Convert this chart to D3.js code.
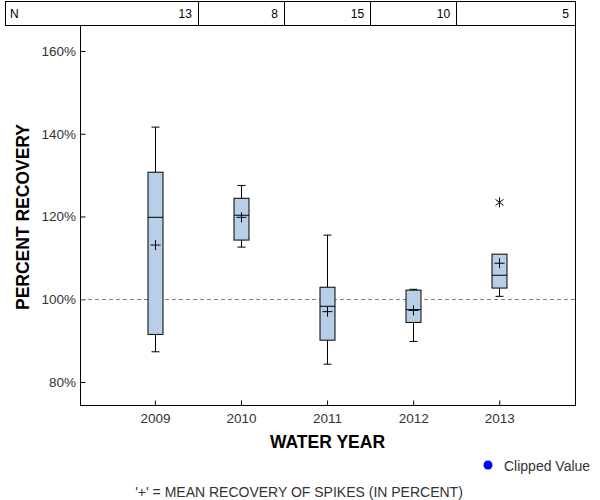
<!DOCTYPE html>
<html>
<head>
<meta charset="utf-8">
<script src="https://cdn.jsdelivr.net/npm/d3@7"></script>
<style>
  body { margin: 0; background: #fff; }
  svg { display: block; font-family: "Liberation Sans", Arial, sans-serif; }
</style>
</head>
<body>
<svg id="chart" width="600" height="500"></svg>
<script>
// ---- data ----
const years      = [2009, 2010, 2011, 2012, 2013];
const counts     = [13, 8, 15, 10, 5];
const whiskerLow = [87.3, 112.6, 84.3, 89.8, 100.7];
const q1         = [91.5, 114.3, 90.1, 94.4, 102.7];
const medians    = [119.8, 120.3, 98.3, 97.5, 105.8];
const q3         = [130.7, 124.4, 102.9, 102.2, 110.9];
const whiskerHigh= [141.6, 127.5, 115.5, 102.4, 110.9];
const means      = [113.1, 119.8, 97.0, 97.3, 108.7];
const outlierYears  = [2013];
const outlierValues = [123.4];
const yTicks     = [80, 100, 120, 140, 160];
const refValue   = 100;

// ---- layout ----
const svg = d3.select("#chart");
const pLeft = 80, pRight = 575, pTop = 25, pBottom = 405;

const x = d3.scaleLinear().domain([2008.13, 2013.88]).range([pLeft, pRight]);
const y = d3.scaleLinear().domain([74.44, 166.28]).range([pBottom, pTop]);

const boxW = 15, capW = 8;

// N table
const tableTop = 1;
svg.append("rect").attr("x", 5.5).attr("y", tableTop + 0.5).attr("width", pRight - 5).attr("height", pTop - tableTop)
  .attr("fill", "none").attr("stroke", "#000").attr("stroke-width", 1).attr("shape-rendering", "crispEdges");
const dividers = years.slice(0, -1).map((yr, i) => (x(yr) + x(years[i + 1])) / 2);
dividers.forEach(d => {
  svg.append("line").attr("x1", Math.round(d) + 0.5).attr("x2", Math.round(d) + 0.5)
    .attr("y1", tableTop).attr("y2", pTop).attr("stroke", "#000").attr("shape-rendering", "crispEdges");
});
svg.append("text").attr("x", 10).attr("y", 18).attr("font-size", 12).attr("fill", "#000").text("N");
const colRights = dividers.concat([pRight]);
counts.forEach((c, i) => {
  svg.append("text").attr("x", colRights[i] - 6).attr("y", 18).attr("font-size", 12)
    .attr("text-anchor", "end").attr("fill", "#000").text(c);
});

// plot frame (left, bottom, right)
svg.append("path")
  .attr("d", `M${pLeft + 0.5},${pTop} V${pBottom + 0.5} H${pRight + 0.5} V${pTop}`)
  .attr("fill", "none").attr("stroke", "#000").attr("shape-rendering", "crispEdges");

// y axis (inside ticks)
const yAxis = d3.axisLeft(y).tickValues(yTicks).tickSize(-5).tickPadding(4.5)
  .tickFormat(d => d + "%");
const gy = svg.append("g").attr("transform", `translate(${pLeft + 0.5},0)`).call(yAxis);
gy.select(".domain").remove();
gy.selectAll("line").attr("stroke", "#000");
gy.selectAll("text").attr("font-size", 13.5).attr("fill", "#333")
  .attr("font-family", "'Liberation Sans', Arial, sans-serif");

// x axis (inside ticks)
const xAxis = d3.axisBottom(x).tickValues(years).tickSize(-5).tickPadding(8).tickFormat(d3.format("d"));
const gx = svg.append("g").attr("transform", `translate(0,${pBottom + 0.5})`).call(xAxis);
gx.select(".domain").remove();
gx.selectAll("line").attr("stroke", "#000");
gx.selectAll("text").attr("font-size", 13.5).attr("fill", "#333")
  .attr("font-family", "'Liberation Sans', Arial, sans-serif");

// reference line
svg.append("line").attr("x1", pLeft + 1).attr("x2", pRight)
  .attr("y1", Math.round(y(refValue)) + 0.5).attr("y2", Math.round(y(refValue)) + 0.5)
  .attr("stroke", "#808080").attr("stroke-dasharray", "4,3");

// boxes
years.forEach((yr, i) => {
  const cx = Math.round(x(yr)) + 0.5;
  const g = svg.append("g").attr("stroke", "#000").attr("stroke-width", 1);
  g.append("line").attr("x1", cx).attr("x2", cx).attr("y1", y(q3[i])).attr("y2", y(whiskerHigh[i]));
  g.append("line").attr("x1", cx).attr("x2", cx).attr("y1", y(q1[i])).attr("y2", y(whiskerLow[i]));
  if (whiskerHigh[i] > q3[i]) {
    g.append("line").attr("x1", cx - capW / 2).attr("x2", cx + capW / 2)
      .attr("y1", y(whiskerHigh[i])).attr("y2", y(whiskerHigh[i]));
  }
  g.append("line").attr("x1", cx - capW / 2).attr("x2", cx + capW / 2)
    .attr("y1", y(whiskerLow[i])).attr("y2", y(whiskerLow[i]));
  g.append("rect").attr("x", cx - boxW / 2).attr("y", y(q3[i]))
    .attr("width", boxW).attr("height", y(q1[i]) - y(q3[i]))
    .attr("fill", "#b9cfe7");
  g.append("line").attr("x1", cx - boxW / 2).attr("x2", cx + boxW / 2)
    .attr("y1", y(medians[i])).attr("y2", y(medians[i]));
  const my = y(means[i]);
  g.append("line").attr("x1", cx - 5).attr("x2", cx + 5).attr("y1", my).attr("y2", my);
  g.append("line").attr("x1", cx).attr("x2", cx).attr("y1", my - 5).attr("y2", my + 5);
});

// outliers (asterisk)
outlierYears.forEach((yr, i) => {
  const cx = Math.round(x(yr)) + 0.5, cy = y(outlierValues[i]);
  const g = svg.append("g").attr("stroke", "#000").attr("stroke-width", 1);
  g.append("line").attr("x1", cx).attr("x2", cx).attr("y1", cy - 5).attr("y2", cy + 5);
  g.append("line").attr("x1", cx - 4).attr("x2", cx + 4).attr("y1", cy - 3).attr("y2", cy + 3);
  g.append("line").attr("x1", cx - 4).attr("x2", cx + 4).attr("y1", cy + 3).attr("y2", cy - 3);
});

// axis titles
svg.append("text").attr("x", (pLeft + pRight) / 2).attr("y", 448).attr("text-anchor", "middle")
  .attr("font-size", 17.5).attr("font-weight", "bold").attr("fill", "#000").text("WATER YEAR");
svg.append("text").attr("transform", "translate(29,217) rotate(-90)").attr("text-anchor", "middle")
  .attr("font-size", 17.5).attr("font-weight", "bold").attr("fill", "#000").text("PERCENT RECOVERY");

// legend
svg.append("circle").attr("cx", 488).attr("cy", 465).attr("r", 4.5).attr("fill", "#0000ff");
svg.append("text").attr("x", 504).attr("y", 471).attr("font-size", 14).attr("fill", "#333").text("Clipped Value");

// footnote
svg.append("text").attr("x", 299).attr("y", 497).attr("text-anchor", "middle")
  .attr("font-size", 14).attr("fill", "#333").text("'+' = MEAN RECOVERY OF SPIKES (IN PERCENT)");
</script>
</body>
</html>
